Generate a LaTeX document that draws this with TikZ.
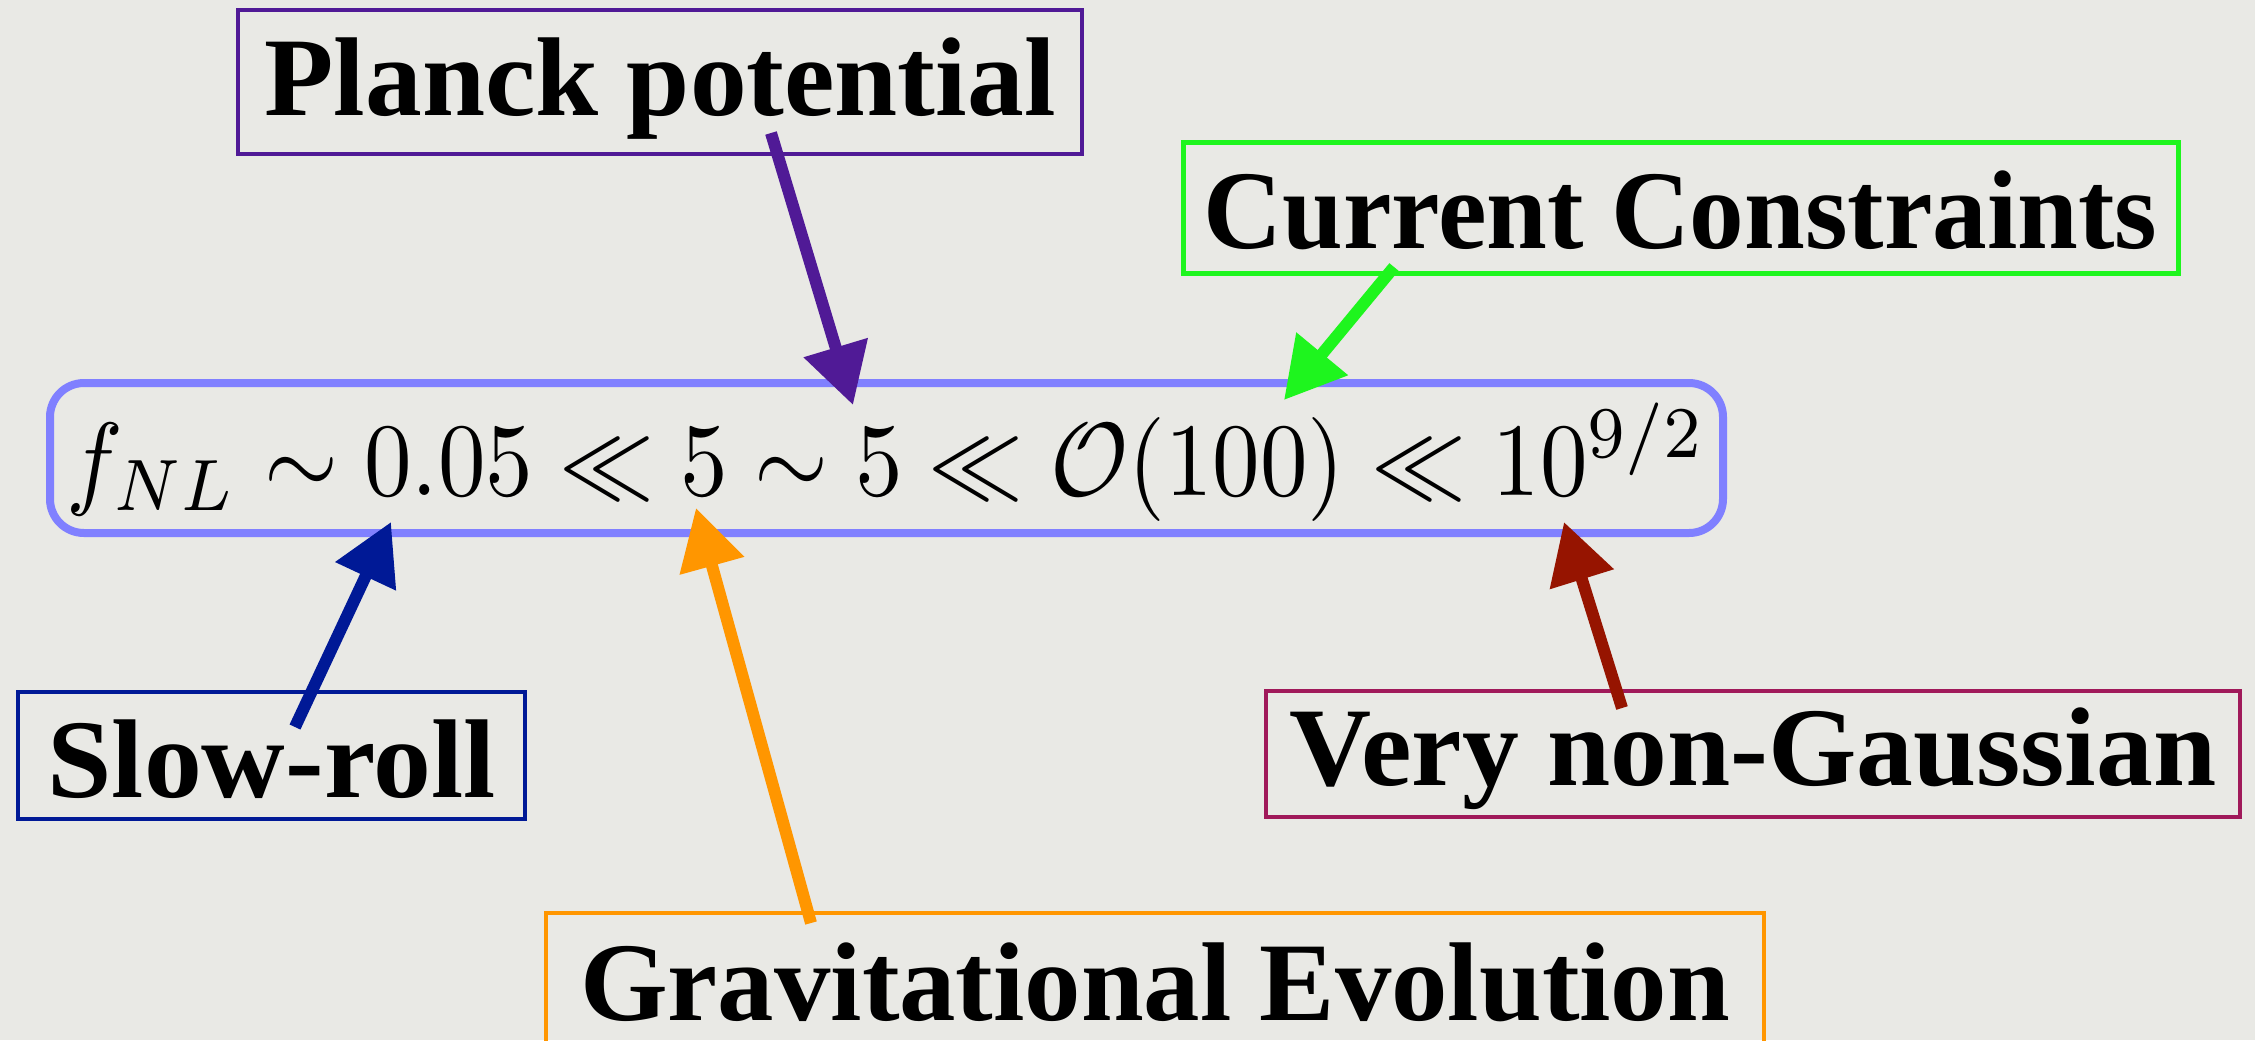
\documentclass[tikz,border=0pt]{standalone}
\usepackage{fontspec}
\newfontfamily\lblfont{Liberation Serif}
\usepackage{graphicx}
\usetikzlibrary{arrows.meta}
\definecolor{bgc}{RGB}{233,233,229}
\definecolor{planckc}{RGB}{80,26,150}
\definecolor{currc}{RGB}{30,245,30}
\definecolor{slowc}{RGB}{0,25,150}
\definecolor{gravc}{RGB}{255,150,0}
\definecolor{vngc}{RGB}{160,25,90}
\definecolor{redarr}{RGB}{150,20,0}
\definecolor{eqc}{RGB}{128,128,255}
\newcommand\fitw[2]{\setbox0=\hbox{#2}\pgfmathsetmacro\fitratio{#1/\the\wd0}\scalebox{\fitratio}[1]{\box0}}
\newcommand\fitwh[3]{\setbox0=\hbox{#3}\pgfmathsetmacro\fitratio{#1/\the\wd0}\scalebox{\fitratio}[#2]{\box0}}
\newcommand\lbl[2]{\fitw{#1}{\fontsize{56}{60}\selectfont\lblfont\bfseries #2}}
\tikzset{
  labelbox/.style={draw=#1, line width=2pt, inner sep=0pt, align=center},
  callout/.style={draw=#1, line width=6pt, -{Triangle[length=30pt,width=32pt]}},
}
\begin{document}
\begin{tikzpicture}[x=0.5pt,y=-0.5pt]
\fill[bgc] (0,0) rectangle (2255,1040);
\useasboundingbox (0,0) rectangle (2255,1040);
\begin{scope}
\clip (0,0) rectangle (2255,1040);
% equation box
\node[draw=eqc, line width=4pt, rounded corners=17pt, inner sep=0pt,
      minimum width=836.5pt, text height=56pt, text depth=19pt] (eq) at (886.5,458)
  {\fitwh{819.5pt}{5.2}{$f_{NL}\sim 0.05\ll 5\sim 5\ll \mathcal{O}(100)\ll 10^{9/2}$}};
% label boxes
\node[labelbox=planckc, minimum width=422pt, text height=52.5pt, text depth=19.5pt] (planck) at (660,82)
  {\lbl{395.5pt}{Planck potential}};
\node[labelbox=currc, line width=2.5pt, minimum width=497.5pt, text height=53pt, text depth=12.5pt] (curr) at (1680.5,207.5)
  {\lbl{477pt}{Current Constraints}};
\node[labelbox=slowc, minimum width=253.5pt, text height=52.5pt, text depth=11pt] (slow) at (271.5,755.5)
  {\lbl{224pt}{Slow-roll}};
\node[labelbox=vngc, minimum width=487pt, text height=47pt, text depth=16pt] (vng) at (1753,754)
  {\lbl{463.5pt}{Very non-Gaussian}};
\node[labelbox=gravc, minimum width=609pt, text height=53.5pt, text depth=15pt] (grav) at (1155,981.5)
  {\lbl{575pt}{Gravitational Evolution}};
% arrow end points
\coordinate (pS) at (771,133);  \coordinate (pT) at (853,405);
\coordinate (cS) at (1394,267); \coordinate (cT) at (1284,400);
\coordinate (sS) at (295,727);  \coordinate (sT) at (391,522);
\coordinate (gS) at (811,923);  \coordinate (gT) at (696,508);
\coordinate (vS) at (1622,708); \coordinate (vT) at (1564,522);
\draw[callout=planckc] (pS) -- (pT);
\draw[callout=currc] (cS) -- (cT);
\draw[callout=slowc] (sS) -- (sT);
\draw[callout=gravc] (gS) -- (gT);
\draw[callout=redarr] (vS) -- (vT);
\end{scope}
\end{tikzpicture}
\end{document}
